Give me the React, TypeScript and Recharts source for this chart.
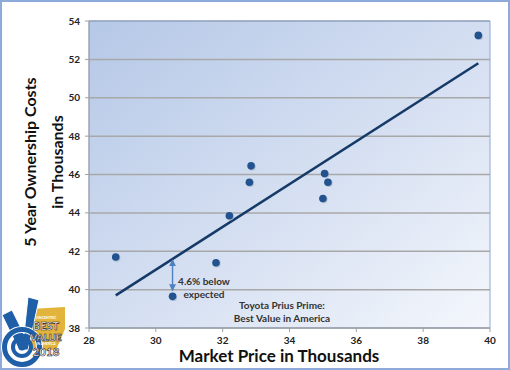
import React from 'react';
import {
  ScatterChart, Scatter, XAxis, YAxis, CartesianGrid, ReferenceLine, ReferenceArea,
} from 'recharts';

// Market price vs 5 year ownership cost, thousands
const PRICES = [28.8, 30.5, 31.8, 32.2, 32.8, 32.85, 35.0, 35.05, 35.15, 39.65];
const COSTS = [41.7, 39.65, 41.4, 43.85, 45.6, 46.45, 44.75, 46.05, 45.6, 53.25];

// trend line end points
const TREND_X = [28.8, 39.65];
const TREND_Y = [39.7, 51.8];

// "4.6% below expected" arrow for the Prius Prime
const ARROW_X = 30.5;
const ARROW_Y = [39.95, 41.55];

const X_TICKS = [28, 30, 32, 34, 36, 38, 40];
const Y_TICKS = [38, 40, 42, 44, 46, 48, 50, 52, 54];

const points = PRICES.map((x, i) => ({ x, y: COSTS[i] }));

const FONT = 'Lato, "Open Sans", sans-serif';
const tickStyle = { fill: '#222', fontSize: 10, fontWeight: 700, fontFamily: FONT };

const Dot = (p: any) => (
  <g>
    <circle cx={p.cx + 0.8} cy={p.cy + 0.8} r={3.9} fill="#9aa9c0" opacity={0.6} />
    <circle cx={p.cx} cy={p.cy} r={3.8} fill="#22538e" />
  </g>
);

const ArrowShape = (p: any) => (
  <line x1={p.x1} y1={p.y1} x2={p.x2} y2={p.y2} stroke="#4f81bd" strokeWidth={1.4}
    markerStart="url(#arrowHead)" markerEnd="url(#arrowHead)" />
);

function Badge() {
  // "Best Value in America 2018" badge, bottom left
  const f = { fontFamily: FONT, textAnchor: 'middle' as const, fill: '#fff' };
  return (
    <svg width={70} height={78} style={{ position: 'absolute', left: 0, top: 292 }}>
      <polygon points="30,17 65,15 65,37 56,58 30,58" fill="#e2b43c" />
      <polygon points="2,23 12,18 24,42 28,5 39,8 28,58 19,58" fill="#1f5fa8" stroke="#fff" strokeWidth={1} />
      <circle cx={22} cy={55} r={17.5} fill="none" stroke="#fff" strokeWidth={7} />
      <circle cx={22} cy={55} r={17.5} fill="none" stroke="#1f5fa8" strokeWidth={5} />
      <circle cx={22} cy={55} r={9} fill="none" stroke="#1f5fa8" strokeWidth={4} />
      <circle cx={22} cy={55} r={3.5} fill="#1f5fa8" />
      <text x={46} y={27} fontSize={3.5} fontWeight={700} {...f}>VINCENTRIC</text>
      <text x={46} y={38} fontSize={11} fontWeight={900} stroke="#223" strokeWidth={0.6} {...f}>BEST</text>
      <text x={46} y={49} fontSize={10} fontWeight={900} stroke="#223" strokeWidth={0.6} {...f}>VALUE</text>
      <text x={46} y={53} fontSize={3.3} fontWeight={700} {...f}>IN AMERICA</text>
      <text x={46} y={64} fontSize={11.5} fontWeight={900} stroke="#223" strokeWidth={0.6} {...f}>2018</text>
    </svg>
  );
}

function Overlay() {
  const t = { fontFamily: FONT, fontWeight: 700 } as const;
  return (
    <svg width={510} height={370} style={{ position: 'absolute', left: 0, top: 0, pointerEvents: 'none' }}>
      <text transform="translate(36,162) rotate(-90)" textAnchor="middle" fontSize={16} fill="#111" {...t}>5 Year Ownership Costs</text>
      <text transform="translate(63,162) rotate(-90)" textAnchor="middle" fontSize={16} fill="#111" {...t}>in Thousands</text>
      <text x={279} y={362} textAnchor="middle" fontSize={17} fill="#111" {...t}>Market Price in Thousands</text>
      <text x={204} y={285} textAnchor="middle" fontSize={10} fill="#333" {...t}>4.6% below</text>
      <text x={204} y={298} textAnchor="middle" fontSize={10} fill="#333" {...t}>expected</text>
      <text x={282} y={309} textAnchor="middle" fontSize={10} fill="#333" {...t}>Toyota Prius Prime:</text>
      <text x={282} y={322} textAnchor="middle" fontSize={10} fill="#333" {...t}>Best Value in America</text>
    </svg>
  );
}

export default function App() {
  return (
    <div style={{
      position: 'fixed', left: 0, top: 0, width: 510, height: 370, background: '#fff',
      boxSizing: 'border-box', border: '2px solid #8eaadb',
    }}>
      <div style={{ position: 'absolute', left: -2, top: -2 }}>
        <ScatterChart width={510} height={370} margin={{ top: 21, right: 20, bottom: 12, left: 29 }}>
          <defs>
            <linearGradient id="plotBg" x1="0" y1="0" x2="1" y2="1">
              <stop offset="0%" stopColor="#b5c8e7" />
              <stop offset="55%" stopColor="#d6e0f2" />
              <stop offset="100%" stopColor="#f4f7fc" />
            </linearGradient>
            <marker id="arrowHead" viewBox="0 0 10 10" refX="9" refY="5" markerWidth="5" markerHeight="5" orient="auto-start-reverse">
              <path d="M0,0 L10,5 L0,10 z" fill="#4f81bd" />
            </marker>
          </defs>
          <CartesianGrid vertical={false} stroke="#a8a8a8" strokeWidth={1.5} fill="url(#plotBg)" />
          <ReferenceArea x1={28} x2={40} y1={38} y2={54} fill="none" stroke="#8ea8d6" strokeWidth={1} />
          <XAxis type="number" dataKey="x" domain={[28, 40]} ticks={X_TICKS} tick={tickStyle}
            tickSize={4} tickMargin={5} axisLine={{ stroke: '#a0a0a0' }} tickLine={{ stroke: '#a0a0a0' }} />
          <YAxis type="number" dataKey="y" domain={[38, 54]} ticks={Y_TICKS} tick={tickStyle} width={60}
            tickSize={4} tickMargin={5} axisLine={{ stroke: '#a0a0a0' }} tickLine={{ stroke: '#a0a0a0' }} />
          <ReferenceLine segment={[{ x: TREND_X[0], y: TREND_Y[0] }, { x: TREND_X[1], y: TREND_Y[1] }]}
            stroke="#163a68" strokeWidth={2.5} />
          <ReferenceLine segment={[{ x: ARROW_X, y: ARROW_Y[0] }, { x: ARROW_X, y: ARROW_Y[1] }]}
            shape={ArrowShape} />
          <Scatter data={points} shape={Dot} isAnimationActive={false} />
        </ScatterChart>
        <Overlay />
        <Badge />
      </div>
    </div>
  );
}
